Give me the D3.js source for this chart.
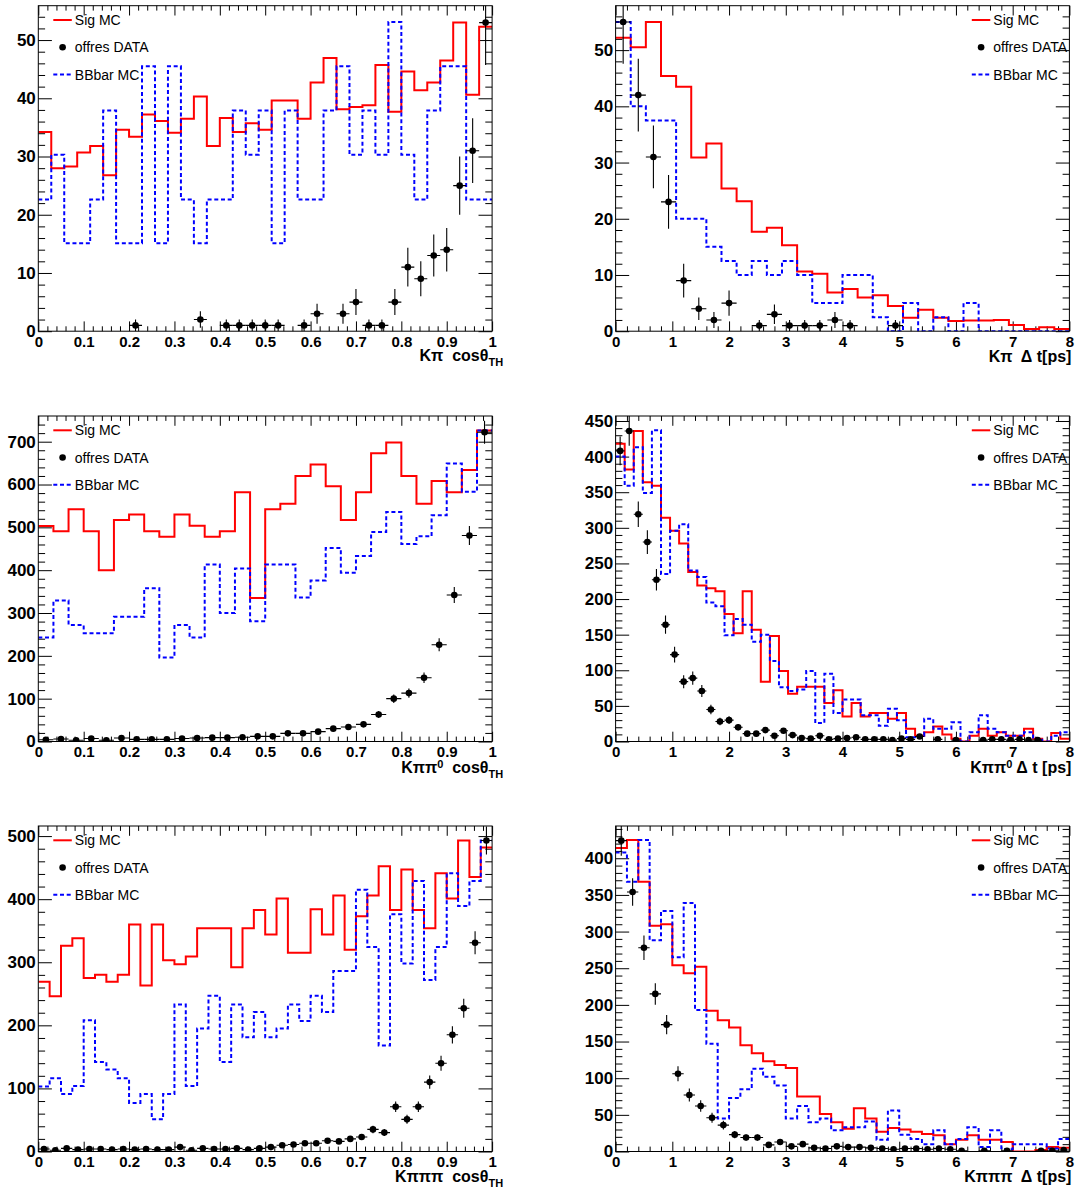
<!DOCTYPE html>
<html>
<head>
<meta charset="utf-8">
<script src="https://cdn.jsdelivr.net/npm/d3@7"></script>
<style>
  body { margin: 0; background: #fff; }
  svg { display: block; font-family: "Liberation Sans", Arial, Helvetica, sans-serif; }
  .title { white-space: pre; }
</style>
</head>
<body>
<div id="chart"></div>
<script>
// ---- tick labels ----
const cosTicks = [0, 0.1, 0.2, 0.3, 0.4, 0.5, 0.6, 0.7, 0.8, 0.9, 1];
const cosTickLabels = ['0', '0.1', '0.2', '0.3', '0.4', '0.5', '0.6', '0.7', '0.8', '0.9', '1'];
const dtTicks = [0, 1, 2, 3, 4, 5, 6, 7, 8];
const dtTickLabels = ['0', '1', '2', '3', '4', '5', '6', '7', '8'];
const legendLabels = ['Sig MC', 'offres DATA', 'BBbar MC'];

// ---- K pi, cos theta_TH (35 bins on 0..1) ----
const kpiCosSig = [34.2, 28.0, 28.3, 30.7, 31.8, 26.8, 34.6, 33.4, 37.2, 36.1, 34.1, 36.5, 40.3, 31.8, 36.6, 34.2, 35.7, 34.6,
  39.6, 39.6, 36.5, 42.7, 46.9, 38.1, 38.5, 38.8, 45.7, 37.7, 44.6, 41.4, 42.7, 46.5, 53.0, 40.6, 52.3];
const kpiCosData = [0, 0, 0, 0, 0, 0, 0, 1, 0, 0, 0, 0, 2, 0, 1, 1, 1, 1, 1, 0, 1, 3, 0, 3, 5, 1, 1, 5, 11, 9, 13, 14, 25, 31, 53];
const kpiCosBB = [22.6, 30.3, 15.1, 15.1, 22.6, 37.9, 15.1, 15.1, 45.5, 15.1, 45.5, 22.6, 15.1, 22.6, 22.6, 37.9, 30.3, 37.9,
  15.1, 37.9, 22.6, 22.6, 37.9, 45.5, 30.3, 37.9, 30.3, 53.1, 30.3, 22.6, 37.9, 45.5, 45.5, 22.6, 22.6];

// ---- K pi, delta t (30 bins on 0..8) ----
const kpiDtSig = [52.2, 50.5, 55.0, 45.4, 43.5, 30.9, 33.4, 25.4, 23.1, 17.7, 18.4, 15.3, 10.6, 10.2, 6.9, 7.5, 6.0, 6.4,
  4.5, 2.4, 3.8, 2.4, 1.8, 1.9, 1.9, 2.0, 1.1, 0.4, 0.7, 0.4];
const kpiDtData = [55, 42, 31, 23, 9, 4, 2, 5, 0, 1, 3, 1, 1, 1, 2, 1, 0, 0, 1, 0, 0, 0, 0, 0, 0, 0, 0, 0, 0, 0];
const kpiDtBB = [55, 40, 37.5, 37.5, 20, 20, 15, 12.5, 10, 12.5, 10, 12.5, 10, 5, 5, 10, 10, 2.5, 0, 5, 0, 2.5, 0, 5, 0, 0, 0, 0, 0, 0];

// ---- K pi pi0, cos theta_TH (30 bins on 0..1) ----
const kpipi0CosSig = [503, 491, 542, 491, 400, 517, 530, 491, 478, 530, 504, 478, 491, 582, 335, 542, 555, 620, 647, 596,
  517, 582, 673, 698, 620, 555, 608, 582, 634, 726];
const kpipi0CosData = [4, 6, 3, 7, 3, 8, 5, 5, 5, 7, 8, 9, 9, 10, 12, 12, 19, 19, 23, 30, 34, 40, 63, 100, 113, 149, 226, 342, 481, 722];
const kpipi0CosBB = [243, 329, 272, 253, 253, 291, 291, 358, 196, 272, 243, 413, 300, 404, 281, 413, 413, 336, 376, 452,
  394, 433, 489, 536, 461, 479, 528, 649, 583, 726];

// ---- K pi pi0, delta t (50 bins on 0..8) ----
const kpipi0DtSig = [418, 382, 436, 364, 359, 314, 296, 278, 238, 219, 215, 211, 179, 152, 211, 157, 84, 148, 99, 67,
  77, 77, 77, 54, 72, 35, 54, 35, 40, 40, 32, 40, 18, 8, 13, 21, 10, 4, 0, 8, 18, 8, 13, 8, 8, 18, 4, 0, 12, 4];
const kpipi0DtData = [408, 436, 319, 280, 227, 164, 122, 84, 89, 71, 45, 28, 30, 20, 11, 11, 16, 8, 15, 9,
  5, 4, 8, 3, 4, 5, 6, 3, 3, 3, 2, 4, 3, 7, 0, 3, 0, 2, 0, 0, 2, 3, 3, 2, 3, 2, 2, 0, 0, 0];
const kpipi0DtBB = [400, 359, 413, 349, 437, 235, 296, 305, 240, 231, 195, 190, 149, 172, 164, 140, 150, 113, 76, 71,
  73, 99, 26, 95, 40, 59, 59, 37, 37, 22, 46, 30, 6, 8, 32, 18, 18, 27, 0, 13, 37, 18, 13, 8, 8, 13, 4, 0, 8, 13];

// ---- K pi pi pi, cos theta_TH (40 bins on 0..1) ----
const k3piCosSig = [269, 246, 326, 338, 275, 280, 269, 280, 360, 263, 360, 303, 297, 309, 354, 354, 354, 292, 354, 383,
  344, 401, 315, 315, 384, 344, 406, 320, 373, 406, 452, 383, 447, 383, 354, 441, 401, 493, 435, 482];
const k3piCosData = [4, 2, 5, 3, 4, 4, 3, 4, 3, 4, 3, 3, 7, 2, 5, 4, 4, 5, 3, 5,
  7, 10, 11, 13, 13, 17, 16, 20, 23, 35, 30, 71, 51, 71, 110, 140, 185, 227, 331, 493];
const k3piCosBB = [103, 116, 91, 104, 208, 142, 130, 116, 77, 91, 51, 91, 233, 104, 195, 247, 142, 233, 181, 221,
  181, 195, 233, 207, 247, 221, 286, 286, 415, 324, 168, 376, 298, 429, 272, 324, 441, 389, 429, 493];

// ---- K pi pi pi, delta t (40 bins on 0..8) ----
const k3piDtSig = [414, 425, 368, 308, 310, 254, 243, 252, 192, 179, 169, 145, 134, 123, 118, 114, 75, 75, 51, 40,
  31, 59, 45, 27, 32, 30, 27, 24, 22, 10, 16, 22, 16, 16, 13, 0, 0, 2, 6, 5];
const k3piDtData = [424, 354, 278, 215, 173, 106, 77, 62, 46, 36, 23, 19, 19, 9, 13, 7, 10, 5, 4, 7,
  6, 6, 5, 4, 3, 4, 4, 3, 4, 3, 1, 0, 1, 0, 1, 0, 0, 1, 1, 2];
const k3piDtBB = [408, 368, 425, 288, 328, 265, 339, 193, 147, 45, 73, 85, 113, 102, 90, 45, 62, 40, 45, 29,
  33, 33, 41, 16, 56, 23, 17, 10, 29, 10, 17, 33, 6, 29, 3, 10, 10, 10, 4, 17];

const panels = [
  { id: 1, col: 0, row: 0, xDomain: [0, 1], xTicks: cosTicks, xLabels: cosTickLabels, xMinor: 0.02,
    sig: kpiCosSig, data: kpiCosData, bb: kpiCosBB, yMax: 55.9, yMajor: 10, yMinor: 2, legend: 'left',
    titleDy: 30, title: [{ t: 'K\u03c0  cos\u03b8' }, { t: 'TH', sub: true }] },
  { id: 2, col: 1, row: 0, xDomain: [0, 8], xTicks: dtTicks, xLabels: dtTickLabels, xMinor: 0.2,
    sig: kpiDtSig, data: kpiDtData, bb: kpiDtBB, yMax: 57.9, yMajor: 10, yMinor: 2, legend: 'right',
    titleDy: 31, title: [{ t: 'K\u03c0  \u0394 t[ps]' }] },
  { id: 3, col: 0, row: 1, xDomain: [0, 1], xTicks: cosTicks, xLabels: cosTickLabels, xMinor: 0.02,
    sig: kpipi0CosSig, data: kpipi0CosData, bb: kpipi0CosBB, yMax: 760, yMajor: 100, yMinor: 20, legend: 'left',
    titleDy: 31, title: [{ t: 'K\u03c0\u03c0' }, { t: '0', sup: true }, { t: '  cos\u03b8' }, { t: 'TH', sub: true }] },
  { id: 4, col: 1, row: 1, xDomain: [0, 8], xTicks: dtTicks, xLabels: dtTickLabels, xMinor: 0.2,
    sig: kpipi0DtSig, data: kpipi0DtData, bb: kpipi0DtBB, yMax: 457, yMajor: 50, yMinor: 10, legend: 'right',
    titleDy: 31, title: [{ t: 'K\u03c0\u03c0' }, { t: '0', sup: true }, { t: ' \u0394 t [ps]' }] },
  { id: 5, col: 0, row: 2, xDomain: [0, 1], xTicks: cosTicks, xLabels: cosTickLabels, xMinor: 0.02,
    sig: k3piCosSig, data: k3piCosData, bb: k3piCosBB, yMax: 516, yMajor: 100, yMinor: 20, legend: 'left',
    titleDy: 30, title: [{ t: 'K\u03c0\u03c0\u03c0  cos\u03b8' }, { t: 'TH', sub: true }] },
  { id: 6, col: 1, row: 2, xDomain: [0, 8], xTicks: dtTicks, xLabels: dtTickLabels, xMinor: 0.2,
    sig: k3piDtSig, data: k3piDtData, bb: k3piDtBB, yMax: 444, yMajor: 50, yMinor: 10, legend: 'right',
    titleDy: 30.5, title: [{ t: 'K\u03c0\u03c0\u03c0  \u0394 t[ps]' }] },
];

const frameLeft = [38.3, 615.6];
const frameWidth = 453.8;
const frameTop = [5.7, 416, 826];
const frameHeight = 325.5;

const svg = d3.select('#chart').append('svg').attr('width', 1081).attr('height', 1192);

function styleAxis(g, size) {
  g.select('.domain').remove();
  g.attr('font-family', '"Liberation Sans", Arial, sans-serif')
    .attr('font-size', size)
    .attr('font-weight', 'bold');
  g.selectAll('.tick line').attr('stroke', '#000').attr('stroke-width', 1);
  g.selectAll('.tick text').attr('fill', '#000');
}

function drawPanel(p) {
  const left = frameLeft[p.col];
  const right = left + frameWidth;
  const top = frameTop[p.row];
  const bottom = top + frameHeight;

  const x = d3.scaleLinear().domain(p.xDomain).range([left, right]);
  const y = d3.scaleLinear().domain([0, p.yMax]).range([bottom, top]);

  const g = svg.append('g').attr('class', 'panel');
  g.append('clipPath').attr('id', 'clip' + p.id)
    .append('rect').attr('x', left).attr('y', top).attr('width', frameWidth).attr('height', frameHeight);

  const nBins = p.sig.length;
  const binW = (p.xDomain[1] - p.xDomain[0]) / nBins;
  const edge = i => p.xDomain[0] + i * binW;

  // tick positions
  const yMajor = d3.range(0, p.yMax, p.yMajor);
  const yMinor = d3.range(0, p.yMax, p.yMinor).filter(v => Math.abs(v / p.yMajor - Math.round(v / p.yMajor)) > 1e-6);
  const xMinor = d3.range(p.xDomain[0], p.xDomain[1] + 1e-9, p.xMinor)
    .filter(v => !p.xTicks.some(t => Math.abs(t - v) < 1e-6));

  const xLen = 9.8, yLen = 13.6;

  // bottom axis
  g.append('g').attr('transform', `translate(0,${bottom})`)
    .call(d3.axisBottom(x).tickValues(p.xTicks).tickFormat((d, i) => p.xLabels[i])
      .tickSizeInner(-xLen).tickSizeOuter(0).tickPadding(5))
    .call(a => styleAxis(a, 15));
  g.append('g').attr('transform', `translate(0,${bottom})`)
    .call(d3.axisBottom(x).tickValues(xMinor).tickFormat('').tickSizeInner(-xLen / 2).tickSizeOuter(0))
    .call(a => styleAxis(a, 15));
  // top axis (ticks only)
  g.append('g').attr('transform', `translate(0,${top})`)
    .call(d3.axisTop(x).tickValues(p.xTicks).tickFormat('').tickSizeInner(-xLen).tickSizeOuter(0))
    .call(a => styleAxis(a, 15));
  g.append('g').attr('transform', `translate(0,${top})`)
    .call(d3.axisTop(x).tickValues(xMinor).tickFormat('').tickSizeInner(-xLen / 2).tickSizeOuter(0))
    .call(a => styleAxis(a, 15));
  // left axis
  g.append('g').attr('transform', `translate(${left},0)`)
    .call(d3.axisLeft(y).tickValues(yMajor).tickFormat(d3.format('d'))
      .tickSizeInner(-yLen).tickSizeOuter(0).tickPadding(2.5))
    .call(a => styleAxis(a, 17));
  g.append('g').attr('transform', `translate(${left},0)`)
    .call(d3.axisLeft(y).tickValues(yMinor).tickFormat('').tickSizeInner(-yLen / 2).tickSizeOuter(0))
    .call(a => styleAxis(a, 17));
  // right axis (ticks only)
  g.append('g').attr('transform', `translate(${right},0)`)
    .call(d3.axisRight(y).tickValues(yMajor).tickFormat('').tickSizeInner(-yLen).tickSizeOuter(0))
    .call(a => styleAxis(a, 17));
  g.append('g').attr('transform', `translate(${right},0)`)
    .call(d3.axisRight(y).tickValues(yMinor).tickFormat('').tickSizeInner(-yLen / 2).tickSizeOuter(0))
    .call(a => styleAxis(a, 17));

  const plot = g.append('g').attr('clip-path', `url(#clip${p.id})`);

  // histograms as step lines
  const step = d3.line().x(d => x(d[0])).y(d => y(d[1])).curve(d3.curveStepAfter);
  const stepPoints = vals => vals.map((v, i) => [edge(i), v]).concat([[edge(nBins), vals[nBins - 1]]]);

  plot.append('path')
    .attr('d', step(stepPoints(p.sig)))
    .attr('fill', 'none').attr('stroke', '#ff0000').attr('stroke-width', 2);

  plot.append('path')
    .attr('d', step(stepPoints(p.bb)))
    .attr('fill', 'none').attr('stroke', '#0000ff').attr('stroke-width', 2)
    .attr('stroke-dasharray', '4,2.7');

  // data points with errors
  const pts = p.data.map((v, i) => ({ v, i })).filter(d => d.v > 0);
  const dg = plot.append('g');
  dg.selectAll('line.ey').data(pts).join('line').attr('class', 'ey')
    .attr('x1', d => x(edge(d.i + 0.5))).attr('x2', d => x(edge(d.i + 0.5)))
    .attr('y1', d => y(d.v - Math.sqrt(d.v))).attr('y2', d => y(d.v + Math.sqrt(d.v)))
    .attr('stroke', '#000').attr('stroke-width', 1.1);
  dg.selectAll('line.ex').data(pts).join('line').attr('class', 'ex')
    .attr('x1', d => x(edge(d.i))).attr('x2', d => x(edge(d.i + 1)))
    .attr('y1', d => y(d.v)).attr('y2', d => y(d.v))
    .attr('stroke', '#000').attr('stroke-width', 1.1);
  dg.selectAll('circle').data(pts).join('circle')
    .attr('cx', d => x(edge(d.i + 0.5))).attr('cy', d => y(d.v)).attr('r', 3.3)
    .attr('fill', '#000');

  // frame
  g.append('rect').attr('x', left).attr('y', top).attr('width', frameWidth).attr('height', frameHeight)
    .attr('fill', 'none').attr('stroke', '#000').attr('stroke-width', 1);

  // legend
  const lx = p.legend === 'left' ? left + 15 : right - 97.6;
  const rows = [top + 14.3, top + 41.5, top + 68.8];
  const lg = g.append('g').attr('font-size', 14).attr('fill', '#000');
  lg.append('line').attr('x1', lx).attr('x2', lx + 18.5).attr('y1', rows[0]).attr('y2', rows[0])
    .attr('stroke', '#ff0000').attr('stroke-width', 2);
  lg.append('circle').attr('cx', lx + 9.3).attr('cy', rows[1]).attr('r', 3.3).attr('fill', '#000');
  lg.append('line').attr('x1', lx).attr('x2', lx + 18.5).attr('y1', rows[2]).attr('y2', rows[2])
    .attr('stroke', '#0000ff').attr('stroke-width', 2).attr('stroke-dasharray', '4,2.7');
  lg.selectAll('text').data(legendLabels).join('text')
    .attr('x', lx + 21.5).attr('y', (d, i) => rows[i]).attr('dy', '0.36em')
    .text(d => d);

  // axis title
  const tx = p.col === 0 ? right + 11 : right + 2;
  const title = g.append('text').attr('class', 'title')
    .attr('x', tx).attr('y', bottom + p.titleDy)
    .attr('text-anchor', 'end').attr('font-weight', 'bold').attr('font-size', 16);
  let shift = 0;
  p.title.forEach(part => {
    const target = part.sub ? 5 : part.sup ? -5 : 0;
    title.append('tspan')
      .attr('dy', target - shift)
      .attr('font-size', part.sub || part.sup ? 11 : 16)
      .text(part.t);
    shift = target;
  });
}

panels.forEach(drawPanel);
</script>
</body>
</html>
